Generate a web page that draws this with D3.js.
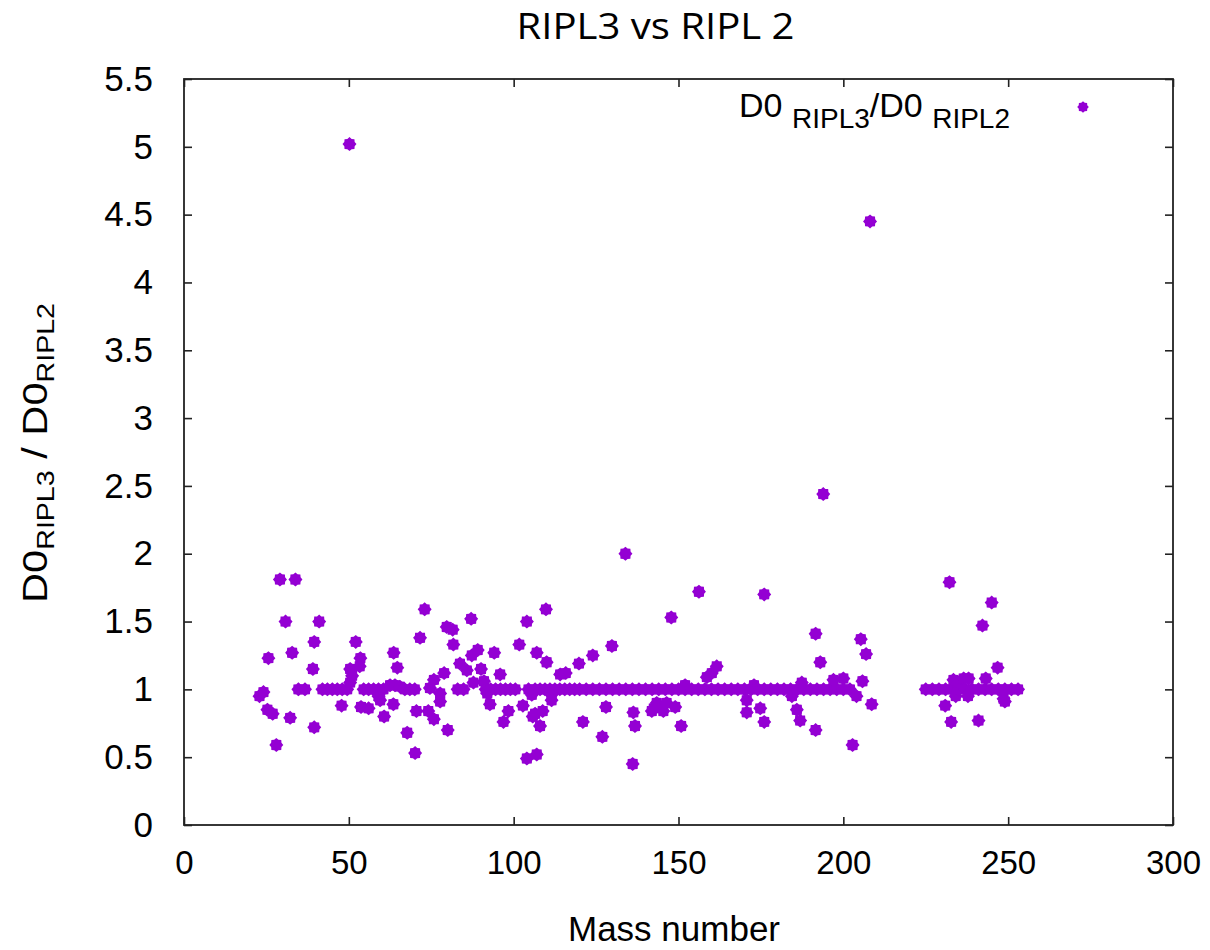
<!DOCTYPE html>
<html>
<head>
<meta charset="utf-8">
<script src="https://cdn.jsdelivr.net/npm/d3@7"></script>
<style>
  html, body { margin: 0; padding: 0; background: #ffffff; }
  svg { display: block; }
</style>
</head>
<body>
<svg id="chart" width="1210" height="950"></svg>
<script>
// ---- data ----
const chartTitle = "RIPL3 vs RIPL 2";
const xLabel = "Mass number";
const xTicks = [0, 50, 100, 150, 200, 250, 300];
const yTicks = [0, 0.5, 1, 1.5, 2, 2.5, 3, 3.5, 4, 4.5, 5, 5.5];

const massNumber = [
  22.9, 24.1, 25.3, 25.6, 26.9, 28.0, 29.1, 30.8, 32.2, 32.8,
  33.8, 34.7, 36.7, 39.1, 39.5, 39.5, 41.0, 42.0, 43.5, 45.0,
  46.5, 47.8, 48.0, 49.5, 50.4, 50.4, 50.2, 51.0, 52.1, 53.5,
  53.3, 53.7, 54.5, 56.0, 56.0, 57.5, 59.0, 59.5, 59.0, 60.5,
  60.7, 62.5, 63.5, 63.6, 64.0, 64.7, 65.5, 67.0, 67.7, 68.5,
  70.0, 70.1, 70.5, 71.6, 73.0, 74.1, 74.6, 75.8, 75.8, 77.7,
  77.7, 78.9, 79.7, 80.0, 81.5, 81.7, 83.0, 83.7, 84.8, 85.8,
  87.1, 87.3, 87.8, 89.1, 90.1, 91.0, 91.5, 92.0, 92.8, 93.0,
  94.1, 94.5, 95.9, 96.0, 96.9, 97.5, 98.4, 99.0, 100.5, 101.7,
  102.8, 104.0, 104.0, 104.5, 105.5, 105.8, 106.5, 106.5, 107.0, 107.0,
  108.0, 108.0, 108.8, 109.5, 109.8, 110.0, 111.0, 111.5, 111.5, 112.5,
  114.0, 114.1, 115.5, 115.8, 117.0, 118.5, 119.8, 120.0, 121.0, 122,
  124, 124, 126, 126.9, 128, 128, 129.8, 130, 132, 133.9,
  134, 136, 136.1, 136.3, 136.8, 138, 140, 141.9, 142, 142.5,
  143.4, 144, 144, 145.4, 146, 146.4, 147.8, 148, 149, 150,
  150.8, 152, 152, 154, 156, 156.2, 158, 158.6, 160, 160.1,
  161.6, 162, 164, 166, 168, 170, 170.7, 170.7, 172, 172.9,
  174, 174.8, 176, 176, 176, 178, 180, 182, 184, 184.4,
  185.9, 186, 186.9, 187.4, 188, 190, 191.6, 191.6, 192, 193,
  193.9, 194, 196, 197, 198, 200, 200, 202, 202.8, 204,
  205.3, 205.8, 206.9, 208.1, 208.6, 225, 227, 229, 230.9, 231,
  232.2, 232.7, 233, 233.4, 234.1, 235, 235, 236.5, 237, 237.8,
  238, 239, 241, 241, 242.2, 243, 243.2, 245, 245, 246.8,
  247, 248.6, 249, 249, 251, 253
];

const ratio = [
  0.95, 0.98, 0.85, 1.23, 0.82, 0.59, 1.81, 1.50, 0.79, 1.27,
  1.81, 1.00, 1.00, 1.15, 1.35, 0.72, 1.50, 1.00, 1.00, 1.00,
  1.00, 0.88, 1.00, 1.00, 1.05, 1.15, 5.02, 1.10, 1.35, 1.23,
  1.17, 0.87, 1.00, 0.86, 1.00, 1.00, 0.95, 0.92, 1.00, 1.00,
  0.80, 1.03, 0.89, 1.27, 1.03, 1.16, 1.02, 1.00, 0.68, 1.00,
  1.00, 0.53, 0.84, 1.38, 1.59, 0.84, 1.01, 1.07, 0.78, 0.97,
  0.91, 1.12, 1.46, 0.70, 1.44, 1.33, 1.00, 1.19, 1.00, 1.14,
  1.52, 1.25, 1.05, 1.29, 1.15, 1.06, 1.00, 0.97, 0.89, 1.00,
  1.27, 1.00, 1.11, 1.00, 0.76, 1.00, 0.84, 1.00, 1.00, 1.33,
  0.88, 1.50, 0.49, 1.00, 0.96, 0.80, 0.82, 1.00, 0.52, 1.27,
  0.73, 1.00, 0.84, 1.00, 1.59, 1.20, 1.00, 0.92, 0.96, 1.00,
  1.00, 1.11, 1.00, 1.12, 1.00, 1.00, 1.19, 1.00, 0.76, 1.00,
  1.00, 1.25, 1.00, 0.65, 1.00, 0.87, 1.32, 1.00, 1.00, 2.00,
  1.00, 1.00, 0.45, 0.83, 0.73, 1.00, 1.00, 0.84, 1.00, 0.86,
  0.90, 1.00, 0.88, 0.84, 1.00, 0.90, 1.53, 1.00, 0.87, 1.00,
  0.73, 1.00, 1.03, 1.00, 1.00, 1.72, 1.00, 1.09, 1.00, 1.12,
  1.17, 1.00, 1.00, 1.00, 1.00, 1.00, 0.92, 0.83, 1.00, 1.03,
  1.00, 0.86, 1.00, 0.76, 1.70, 1.00, 1.00, 1.00, 1.00, 0.95,
  0.85, 1.00, 0.77, 1.05, 1.00, 1.00, 1.41, 0.70, 1.00, 1.20,
  2.44, 1.00, 1.00, 1.07, 1.00, 1.00, 1.08, 1.00, 0.59, 0.95,
  1.37, 1.06, 1.26, 4.45, 0.89, 1.00, 1.00, 1.00, 0.88, 1.00,
  1.79, 0.76, 1.00, 1.07, 0.95, 1.00, 1.05, 1.08, 1.00, 0.95,
  1.08, 1.00, 1.00, 0.77, 1.47, 1.00, 1.08, 1.00, 1.64, 1.16,
  1.00, 0.93, 1.00, 0.91, 1.00, 1.00
];

// ---- drawing ----
const svg = d3.select("#chart");
const plot = { left: 184, right: 1173, top: 79, bottom: 825 };
const markerColor = "#9400d3";
const axisColor = "#222222";
const tickFont = "'Liberation Sans', Arial, sans-serif";

const x = d3.scaleLinear().domain([0, 300]).range([plot.left, plot.right]);
const y = d3.scaleLinear().domain([0, 5.5]).range([plot.bottom, plot.top]);

// title
svg.append("text")
  .attr("x", 655.5).attr("y", 39)
  .attr("text-anchor", "middle")
  .attr("font-family", "'Open Sans', 'Liberation Sans', sans-serif")
  .attr("font-size", 36)
  .attr("textLength", 278).attr("lengthAdjust", "spacingAndGlyphs")
  .attr("fill", "#000")
  .text(chartTitle);

// axes with inward ticks (mirrored)
const tickLen = 8;
const gBottom = svg.append("g").attr("transform", `translate(0,${plot.bottom})`)
  .call(d3.axisBottom(x).tickValues(xTicks).tickSizeInner(-tickLen).tickSizeOuter(0).tickPadding(26).tickFormat(d3.format("d")));
const gTop = svg.append("g").attr("transform", `translate(0,${plot.top})`)
  .call(d3.axisTop(x).tickValues(xTicks).tickSizeInner(-tickLen).tickSizeOuter(0).tickFormat(""));
const gLeft = svg.append("g").attr("transform", `translate(${plot.left},0)`)
  .call(d3.axisLeft(y).tickValues(yTicks).tickSizeInner(-tickLen).tickSizeOuter(0).tickPadding(31).tickFormat(d => d3.format("")(d)));
const gRight = svg.append("g").attr("transform", `translate(${plot.right},0)`)
  .call(d3.axisRight(y).tickValues(yTicks).tickSizeInner(-tickLen).tickSizeOuter(0).tickFormat(""));

[gBottom, gTop, gLeft, gRight].forEach(g => {
  g.select(".domain").remove();
  g.selectAll(".tick line").attr("stroke", axisColor).attr("stroke-width", 1.6);
  g.selectAll("text").attr("font-family", tickFont).attr("font-size", 33).attr("fill", "#000");
});
gLeft.selectAll("text").attr("font-size", 35);

// frame
svg.append("rect")
  .attr("x", plot.left).attr("y", plot.top)
  .attr("width", plot.right - plot.left).attr("height", plot.bottom - plot.top)
  .attr("fill", "none").attr("stroke", axisColor).attr("stroke-width", 1.8);

// x label
svg.append("text")
  .attr("x", 674).attr("y", 941)
  .attr("text-anchor", "middle")
  .attr("font-family", tickFont).attr("font-size", 35)
  .attr("fill", "#000")
  .text(xLabel);

// y label (rotated, with subscripts)
const yl = svg.append("text")
  .attr("transform", "translate(47,603) rotate(-90)")
  .attr("font-family", tickFont).attr("font-size", 35)
  .attr("fill", "#000")
  .attr("textLength", 300).attr("lengthAdjust", "spacingAndGlyphs");
yl.append("tspan").text("D0");
yl.append("tspan").attr("font-size", 24).attr("dy", 7).text("RIPL3");
yl.append("tspan").attr("dy", -7).text(" / D0");
yl.append("tspan").attr("font-size", 24).attr("dy", 7).text("RIPL2");

// marker: 8-point burst
function burst(r1, r2) {
  const pts = [];
  for (let i = 0; i < 16; i++) {
    const r = i % 2 === 0 ? r1 : r2;
    const a = i * Math.PI / 8 - Math.PI / 2;
    pts.push([r * Math.cos(a), r * Math.sin(a)]);
  }
  return "M" + pts.map(p => p[0].toFixed(2) + "," + p[1].toFixed(2)).join("L") + "Z";
}
const markerPath = burst(7.0, 5.6);

svg.append("g").selectAll("path")
  .data(massNumber.map((a, i) => ({ a, r: ratio[i] })))
  .join("path")
  .attr("d", markerPath)
  .attr("transform", d => `translate(${x(d.a)},${y(d.r)})`)
  .attr("fill", markerColor);

// legend
const lg = svg.append("text")
  .attr("x", 1010).attr("y", 117)
  .attr("text-anchor", "end")
  .attr("font-family", tickFont).attr("font-size", 34)
  .attr("fill", "#000");
lg.append("tspan").text("D0 ");
lg.append("tspan").attr("font-size", 28).attr("dy", 11).text("RIPL3");
lg.append("tspan").attr("dy", -11).text("/D0 ");
lg.append("tspan").attr("font-size", 28).attr("dy", 11).text("RIPL2");

svg.append("path")
  .attr("d", burst(5.8, 4.6))
  .attr("transform", "translate(1083,107)")
  .attr("fill", markerColor);
</script>
</body>
</html>
